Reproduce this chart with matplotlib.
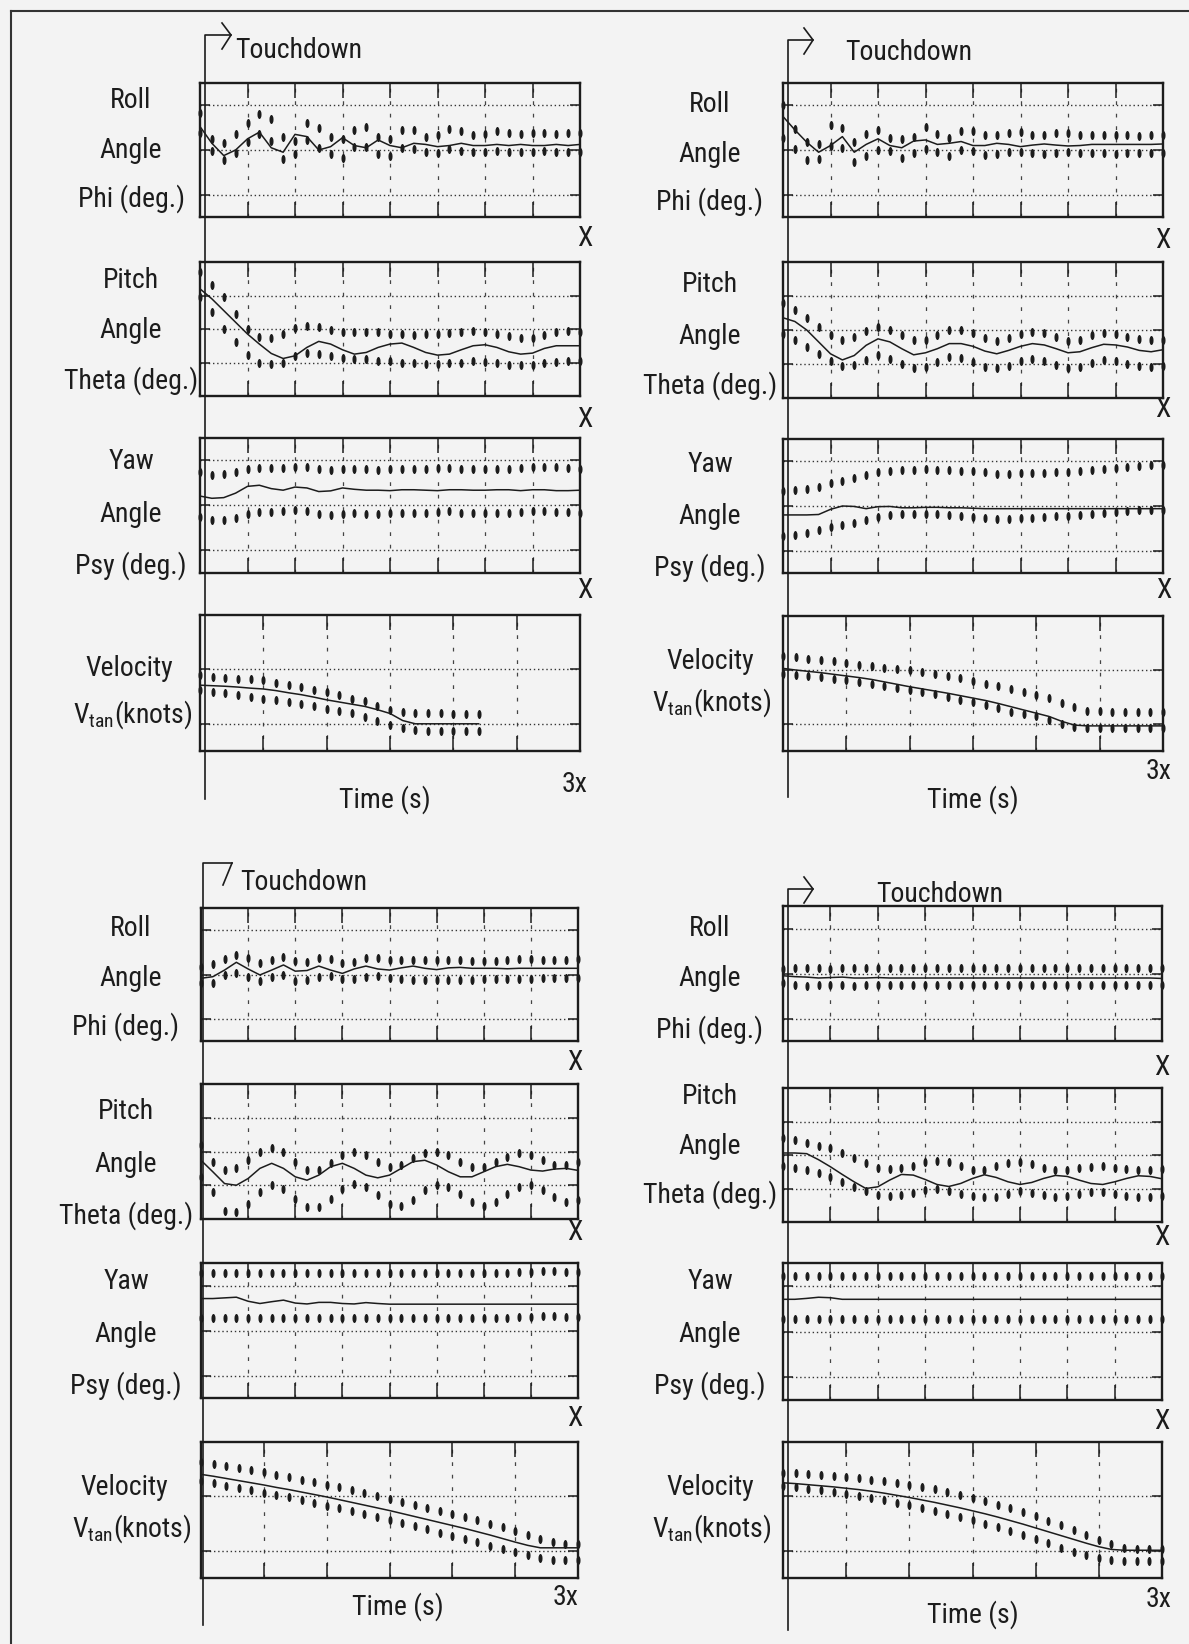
import matplotlib
matplotlib.use("Agg")
import matplotlib.pyplot as plt
from matplotlib import font_manager
from matplotlib.path import Path
import numpy as np

# sampling grids (attitude panels: 0..X, velocity panels: 0..3X)
t_att = np.linspace(0, 1, 33)
t_vel = np.round(np.arange(31) * 0.1, 2)

# ---------------- top-left case ----------------
tl_roll_mid = [4.05, 3.3, 2.75, 3.0, 3.5, 3.8, 3.1, 2.9, 3.7, 3.6, 3.0, 3.15, 3.55, 3.2, 3.1, 3.45, 3.2,
               3.1, 3.3, 3.25, 3.15, 3.2, 3.3, 3.2, 3.2, 3.25, 3.2, 3.25, 3.2, 3.2, 3.25, 3.2, 3.25]
tl_roll_hi = [4.65, 3.5, 3.3, 3.7, 4.2, 4.6, 4.4, 3.6, 3.4, 4.2, 4.0, 3.6, 3.5, 3.9, 4.05, 3.6, 3.5,
              3.9, 3.9, 3.6, 3.65, 3.93, 3.85, 3.65, 3.7, 3.83, 3.75, 3.7, 3.75, 3.78, 3.72, 3.75, 3.75]
tl_roll_lo = [3.75, 2.95, 2.55, 2.85, 3.35, 3.72, 3.4, 2.6, 2.8, 3.45, 3.1, 2.8, 2.65, 3.15, 3.15, 2.8, 2.75,
              3.1, 3.05, 2.9, 2.88, 3.03, 2.95, 2.9, 2.92, 2.95, 2.93, 2.9, 2.93, 2.95, 2.92, 2.9, 2.93]

tl_pitch_mid = [3.2, 2.9, 2.55, 2.2, 1.85, 1.55, 1.27, 1.12, 1.2, 1.45, 1.63, 1.55, 1.38, 1.25, 1.3, 1.45, 1.55,
                1.58, 1.45, 1.3, 1.22, 1.25, 1.38, 1.5, 1.53, 1.45, 1.32, 1.25, 1.28, 1.42, 1.5, 1.5, 1.5]
tl_pitch_hi = [3.7, 3.3, 2.95, 2.45, 2.0, 1.76, 1.74, 1.84, 2.02, 2.08, 2.06, 1.98, 1.9, 1.9, 1.92, 1.9, 1.86,
               1.84, 1.82, 1.84, 1.86, 1.88, 1.92, 1.94, 1.9, 1.86, 1.78, 1.72, 1.74, 1.82, 1.9, 1.94, 1.92]
tl_pitch_lo = [2.95, 2.5, 2.0, 1.6, 1.22, 0.98, 0.95, 1.0, 1.2, 1.28, 1.25, 1.18, 1.12, 1.1, 1.1, 1.05, 1.03,
               1.0, 0.98, 0.96, 0.97, 0.98, 1.0, 1.03, 1.02, 0.98, 0.94, 0.92, 0.93, 0.98, 1.02, 1.04, 1.04]

tl_yaw_mid = [3.42, 3.32, 3.35, 3.55, 3.85, 3.9, 3.75, 3.68, 3.82, 3.78, 3.62, 3.65, 3.78, 3.72, 3.68, 3.68, 3.66,
              3.7, 3.7, 3.68, 3.66, 3.7, 3.7, 3.68, 3.68, 3.7, 3.7, 3.66, 3.7, 3.7, 3.66, 3.66, 3.68]
tl_yaw_hi = [4.48, 4.36, 4.38, 4.5, 4.62, 4.66, 4.66, 4.66, 4.72, 4.72, 4.62, 4.56, 4.6, 4.64, 4.6, 4.58, 4.64,
             4.64, 4.64, 4.64, 4.66, 4.68, 4.64, 4.62, 4.64, 4.64, 4.64, 4.68, 4.72, 4.7, 4.7, 4.66, 4.63]
tl_yaw_lo = [2.47, 2.36, 2.36, 2.46, 2.64, 2.7, 2.72, 2.74, 2.78, 2.76, 2.64, 2.58, 2.62, 2.66, 2.62, 2.6, 2.68,
             2.68, 2.68, 2.68, 2.7, 2.74, 2.68, 2.66, 2.68, 2.68, 2.68, 2.72, 2.76, 2.74, 2.72, 2.7, 2.65]

tl_vel_mid = [2.42, 2.4, 2.38, 2.35, 2.31, 2.28, 2.22, 2.14, 2.07, 1.98, 1.88, 1.8, 1.72, 1.64, 1.52, 1.38,
              1.12, 1.0, 1.0, 1.0, 1.0, 1.0, 1.0]
tl_vel_hi = [2.79, 2.72, 2.69, 2.66, 2.63, 2.6, 2.5, 2.43, 2.36, 2.26, 2.16, 2.06, 1.93, 1.82, 1.64, 1.52,
             1.42, 1.38, 1.38, 1.38, 1.36, 1.36, 1.36]
tl_vel_lo = [2.24, 2.18, 2.12, 2.06, 2.0, 1.92, 1.86, 1.8, 1.72, 1.64, 1.56, 1.48, 1.38, 1.26, 1.1, 0.96,
             0.84, 0.76, 0.74, 0.74, 0.74, 0.74, 0.74]

# ---------------- top-right case ----------------
tr_roll_mid = [4.5, 3.9, 3.35, 2.9, 3.2, 3.6, 2.9, 3.25, 3.5, 3.2, 3.1, 3.4, 3.45, 3.25, 3.3, 3.38, 3.2,
               3.2, 3.3, 3.25, 3.15, 3.22, 3.27, 3.22, 3.18, 3.2, 3.25, 3.25, 3.25, 3.25, 3.25, 3.25, 3.27]
tr_roll_hi = [5.0, 3.95, 3.35, 3.25, 4.1, 4.0, 3.35, 3.7, 3.9, 3.55, 3.5, 3.6, 4.02, 3.7, 3.55, 3.85, 3.85,
              3.65, 3.65, 3.75, 3.8, 3.65, 3.65, 3.75, 3.78, 3.68, 3.68, 3.68, 3.68, 3.65, 3.62, 3.65, 3.68]
tr_roll_lo = [3.55, 3.05, 2.55, 2.6, 3.2, 3.1, 2.45, 2.75, 3.0, 2.95, 2.65, 2.85, 3.05, 2.9, 2.72, 3.0, 2.95,
              2.78, 2.8, 2.9, 2.92, 2.85, 2.8, 2.86, 2.9, 2.88, 2.85, 2.85, 2.82, 2.85, 2.85, 2.85, 2.85]

tr_pitch_mid = [2.36, 2.25, 2.0, 1.65, 1.3, 1.12, 1.25, 1.55, 1.74, 1.65, 1.45, 1.27, 1.33, 1.45, 1.6, 1.6, 1.52,
                1.38, 1.3, 1.4, 1.52, 1.6, 1.56, 1.45, 1.33, 1.36, 1.48, 1.58, 1.56, 1.5, 1.4, 1.36, 1.42]
tr_pitch_hi = [2.79, 2.6, 2.35, 2.1, 1.85, 1.7, 1.78, 1.98, 2.1, 2.0, 1.86, 1.7, 1.72, 1.85, 2.0, 2.0, 1.9,
               1.75, 1.68, 1.76, 1.88, 1.95, 1.9, 1.8, 1.68, 1.72, 1.84, 1.92, 1.88, 1.8, 1.74, 1.7, 1.72]
tr_pitch_lo = [1.88, 1.7, 1.5, 1.3, 1.1, 0.95, 0.98, 1.12, 1.25, 1.15, 1.0, 0.87, 0.9, 1.05, 1.2, 1.18, 1.05,
               0.92, 0.87, 0.95, 1.1, 1.15, 1.08, 0.98, 0.88, 0.92, 1.03, 1.12, 1.08, 1.0, 0.93, 0.92, 0.95]

tr_yaw_mid = [2.6, 2.6, 2.6, 2.62, 2.85, 3.0, 2.98, 2.88, 2.97, 2.98, 2.92, 2.92, 2.94, 2.94, 2.92, 2.92, 2.9,
              2.88, 2.88, 2.88, 2.88, 2.88, 2.88, 2.88, 2.88, 2.88, 2.88, 2.88, 2.88, 2.88, 2.88, 2.88, 2.88]
tr_yaw_hi = [3.65, 3.7, 3.76, 3.86, 4.04, 4.14, 4.26, 4.38, 4.5, 4.58, 4.6, 4.62, 4.64, 4.6, 4.6, 4.58, 4.55,
             4.5, 4.44, 4.44, 4.46, 4.47, 4.48, 4.52, 4.54, 4.56, 4.6, 4.64, 4.7, 4.75, 4.8, 4.82, 4.84]
tr_yaw_lo = [1.64, 1.7, 1.78, 1.92, 2.06, 2.16, 2.24, 2.36, 2.5, 2.6, 2.62, 2.64, 2.65, 2.62, 2.6, 2.56, 2.52,
             2.48, 2.44, 2.44, 2.46, 2.47, 2.5, 2.54, 2.56, 2.6, 2.64, 2.68, 2.74, 2.79, 2.82, 2.83, 2.83]

tr_vel_mid = [3.06, 3.0, 2.95, 2.9, 2.84, 2.78, 2.72, 2.65, 2.56, 2.47, 2.38, 2.3, 2.22, 2.14, 2.05, 1.96,
              1.87, 1.76, 1.64, 1.52, 1.4, 1.28, 1.1, 0.96, 0.93, 0.93, 0.93, 0.93, 0.93, 0.93, 0.93]
tr_vel_hi = [3.52, 3.48, 3.42, 3.38, 3.32, 3.25, 3.2, 3.14, 3.08, 3.04, 3.0, 2.92, 2.84, 2.78, 2.7, 2.6,
             2.5, 2.4, 2.3, 2.2, 2.08, 1.96, 1.78, 1.62, 1.5, 1.48, 1.46, 1.46, 1.46, 1.46, 1.46]
tr_vel_lo = [2.87, 2.82, 2.78, 2.74, 2.68, 2.62, 2.56, 2.48, 2.4, 2.33, 2.26, 2.18, 2.1, 2.01, 1.9, 1.8,
             1.7, 1.58, 1.45, 1.36, 1.28, 1.16, 1.0, 0.88, 0.86, 0.86, 0.86, 0.86, 0.86, 0.86, 0.86]

# ---------------- bottom-left case ----------------
bl_roll_mid = [2.83, 2.9, 3.2, 3.55, 3.25, 2.98, 3.2, 3.43, 3.15, 3.18, 3.38, 3.2, 3.05, 3.25, 3.38, 3.25, 3.2,
               3.3, 3.38, 3.28, 3.22, 3.3, 3.32, 3.28, 3.28, 3.28, 3.26, 3.28, 3.28, 3.28, 3.28, 3.28, 3.28]
bl_roll_hi = [3.35, 3.48, 3.72, 3.88, 3.75, 3.5, 3.64, 3.8, 3.62, 3.55, 3.75, 3.72, 3.5, 3.58, 3.74, 3.75, 3.66,
              3.64, 3.64, 3.64, 3.64, 3.64, 3.64, 3.62, 3.62, 3.62, 3.64, 3.68, 3.72, 3.66, 3.64, 3.66, 3.69]
bl_roll_lo = [2.6, 2.6, 3.0, 3.05, 2.9, 2.7, 2.9, 3.0, 2.72, 2.74, 2.9, 2.95, 2.78, 2.8, 2.88, 2.92, 2.84,
              2.8, 2.76, 2.76, 2.76, 2.76, 2.77, 2.77, 2.78, 2.78, 2.8, 2.8, 2.8, 2.82, 2.82, 2.82, 2.83]

bl_pitch_mid = [1.74, 1.4, 1.05, 1.0, 1.2, 1.5, 1.65, 1.5, 1.25, 1.15, 1.3, 1.55, 1.65, 1.5, 1.3, 1.22, 1.3,
                1.5, 1.7, 1.74, 1.6, 1.4, 1.25, 1.25, 1.4, 1.55, 1.62, 1.55, 1.45, 1.42, 1.48, 1.5, 1.44]
bl_pitch_hi = [2.2, 1.7, 1.45, 1.5, 1.75, 2.0, 2.1, 2.0, 1.7, 1.45, 1.45, 1.65, 1.9, 2.0, 1.9, 1.7, 1.55,
               1.6, 1.8, 1.95, 2.0, 1.9, 1.7, 1.55, 1.55, 1.7, 1.85, 1.95, 1.9, 1.75, 1.6, 1.6, 1.7]
bl_pitch_lo = [1.25, 0.8, 0.25, 0.2, 0.45, 0.8, 1.0, 0.9, 0.6, 0.35, 0.35, 0.6, 0.9, 1.05, 0.95, 0.7, 0.45,
               0.4, 0.55, 0.85, 1.0, 0.95, 0.75, 0.5, 0.4, 0.5, 0.75, 0.95, 1.0, 0.85, 0.65, 0.5, 0.55]

bl_yaw_mid = [4.42, 4.42, 4.45, 4.48, 4.3, 4.2, 4.28, 4.35, 4.22, 4.18, 4.25, 4.25, 4.2, 4.18, 4.24, 4.2, 4.17,
              4.17, 4.17, 4.17, 4.17, 4.17, 4.17, 4.17, 4.17, 4.17, 4.17, 4.17, 4.17, 4.17, 4.17, 4.17, 4.17]
bl_yaw_hi = [5.57, 5.57, 5.57, 5.57, 5.57, 5.57, 5.57, 5.57, 5.57, 5.57, 5.57, 5.57, 5.57, 5.57, 5.57, 5.57, 5.57,
             5.57, 5.57, 5.57, 5.57, 5.57, 5.57, 5.57, 5.57, 5.57, 5.57, 5.6, 5.62, 5.64, 5.64, 5.6, 5.6]
bl_yaw_lo = [3.57, 3.57, 3.57, 3.57, 3.57, 3.57, 3.57, 3.57, 3.57, 3.57, 3.57, 3.57, 3.57, 3.57, 3.57, 3.57, 3.57,
             3.57, 3.57, 3.57, 3.57, 3.57, 3.57, 3.57, 3.57, 3.57, 3.57, 3.6, 3.62, 3.64, 3.64, 3.6, 3.6]

bl_vel_mid = [3.81, 3.74, 3.66, 3.58, 3.5, 3.42, 3.33, 3.25, 3.16, 3.07, 2.98, 2.88, 2.78, 2.68, 2.58, 2.48,
              2.37, 2.26, 2.15, 2.04, 1.93, 1.82, 1.7, 1.58, 1.45, 1.32, 1.2, 1.11, 1.11, 1.11, 1.11]
bl_vel_hi = [4.26, 4.2, 4.13, 4.05, 3.97, 3.88, 3.8, 3.71, 3.62, 3.53, 3.43, 3.33, 3.23, 3.13, 3.02, 2.92,
             2.81, 2.7, 2.59, 2.48, 2.36, 2.24, 2.12, 2.0, 1.86, 1.72, 1.58, 1.44, 1.32, 1.26, 1.24]
bl_vel_lo = [3.55, 3.48, 3.4, 3.32, 3.23, 3.14, 3.05, 2.96, 2.86, 2.76, 2.66, 2.56, 2.46, 2.35, 2.24, 2.13,
             2.02, 1.9, 1.79, 1.67, 1.55, 1.43, 1.31, 1.19, 1.07, 0.95, 0.84, 0.74, 0.68, 0.66, 0.66]

# ---------------- bottom-right case ----------------
br_roll_mid = [2.9, 2.86, 2.84, 2.8, 2.82, 2.84, 2.8, 2.8, 2.82, 2.8, 2.8, 2.8, 2.8, 2.8, 2.8, 2.8, 2.8,
               2.8, 2.8, 2.8, 2.8, 2.8, 2.8, 2.8, 2.8, 2.8, 2.8, 2.8, 2.8, 2.8, 2.8, 2.8, 2.78]
br_roll_hi = [3.2, 3.24, 3.26, 3.24, 3.22, 3.24, 3.26, 3.24, 3.24, 3.24, 3.24, 3.24, 3.24, 3.24, 3.24, 3.24, 3.24,
              3.24, 3.24, 3.24, 3.24, 3.24, 3.24, 3.24, 3.24, 3.24, 3.24, 3.24, 3.24, 3.24, 3.24, 3.24, 3.24]
br_roll_lo = [2.6, 2.5, 2.46, 2.48, 2.5, 2.48, 2.46, 2.48, 2.48, 2.48, 2.48, 2.48, 2.48, 2.48, 2.48, 2.48, 2.48,
              2.48, 2.48, 2.48, 2.48, 2.48, 2.48, 2.48, 2.48, 2.48, 2.48, 2.48, 2.48, 2.48, 2.48, 2.48, 2.48]

br_pitch_mid = [2.06, 2.06, 2.04, 1.86, 1.65, 1.42, 1.2, 1.0, 1.05, 1.25, 1.42, 1.4, 1.27, 1.12, 1.06, 1.15, 1.3,
                1.41, 1.33, 1.2, 1.12, 1.18, 1.3, 1.39, 1.36, 1.25, 1.15, 1.12, 1.2, 1.3, 1.38, 1.36, 1.29]
br_pitch_hi = [2.52, 2.46, 2.36, 2.28, 2.2, 2.06, 1.92, 1.75, 1.6, 1.57, 1.6, 1.66, 1.78, 1.82, 1.78, 1.66, 1.56,
               1.56, 1.66, 1.76, 1.79, 1.72, 1.6, 1.56, 1.56, 1.6, 1.64, 1.66, 1.62, 1.59, 1.56, 1.54, 1.59]
br_pitch_lo = [1.66, 1.6, 1.55, 1.46, 1.34, 1.2, 1.05, 0.93, 0.82, 0.78, 0.8, 0.88, 0.95, 1.0, 0.93, 0.84, 0.78,
               0.74, 0.76, 0.85, 0.93, 0.88, 0.8, 0.75, 0.78, 0.85, 0.9, 0.9, 0.84, 0.77, 0.75, 0.75, 0.77]

br_yaw_mid = [4.41, 4.41, 4.45, 4.5, 4.48, 4.41, 4.41, 4.41, 4.41, 4.41, 4.41, 4.41, 4.41, 4.41, 4.41, 4.41, 4.41,
              4.41, 4.41, 4.41, 4.41, 4.41, 4.41, 4.41, 4.41, 4.41, 4.41, 4.41, 4.41, 4.41, 4.41, 4.41, 4.41]
br_yaw_hi = [5.45, 5.45, 5.45, 5.45, 5.45, 5.45, 5.45, 5.45, 5.45, 5.45, 5.45, 5.45, 5.45, 5.45, 5.45, 5.45, 5.45,
             5.45, 5.45, 5.45, 5.45, 5.45, 5.45, 5.45, 5.45, 5.45, 5.45, 5.45, 5.45, 5.45, 5.45, 5.45, 5.45]
br_yaw_lo = [3.55, 3.55, 3.55, 3.55, 3.55, 3.55, 3.55, 3.55, 3.55, 3.55, 3.55, 3.55, 3.55, 3.55, 3.55, 3.55, 3.55,
             3.55, 3.55, 3.55, 3.55, 3.55, 3.55, 3.55, 3.55, 3.55, 3.55, 3.55, 3.55, 3.55, 3.55, 3.55, 3.55]

br_vel_mid = [3.5, 3.47, 3.43, 3.39, 3.35, 3.3, 3.25, 3.19, 3.12, 3.04, 2.96, 2.87, 2.78, 2.68, 2.58, 2.47,
              2.36, 2.24, 2.11, 1.98, 1.84, 1.7, 1.56, 1.42, 1.28, 1.15, 1.05, 1.02, 1.02, 1.02, 1.02]
br_vel_hi = [3.87, 3.85, 3.82, 3.79, 3.76, 3.72, 3.67, 3.62, 3.56, 3.5, 3.43, 3.35, 3.26, 3.16, 3.05, 2.94,
             2.82, 2.7, 2.56, 2.42, 2.27, 2.11, 1.94, 1.76, 1.58, 1.4, 1.24, 1.12, 1.08, 1.06, 1.06]
br_vel_lo = [3.38, 3.33, 3.28, 3.22, 3.16, 3.09, 3.02, 2.94, 2.86, 2.77, 2.68, 2.58, 2.48, 2.37, 2.25, 2.13,
             2.0, 1.86, 1.72, 1.57, 1.42, 1.27, 1.12, 0.97, 0.83, 0.72, 0.66, 0.64, 0.64, 0.64, 0.64]

row_labels = [["Roll", "Angle", "Phi (deg.)"],
              ["Pitch", "Angle", "Theta (deg.)"],
              ["Yaw", "Angle", "Psy (deg.)"],
              ["Velocity", r"V$_{\mathrm{tan}}$(knots)"]]

# ---------------- fonts ----------------
_names = {f.name for f in font_manager.fontManager.ttflist}
FONT, FS = "Liberation Sans", 17
for cand, size in [("Liberation Sans Narrow", 21), ("Roboto Condensed", 20), ("Open Sans Condensed", 20)]:
    if cand in _names:
        FONT, FS = cand, size
        break
plt.rcParams["font.family"] = [FONT, "DejaVu Sans"]
plt.rcParams["mathtext.fontset"] = "custom"
plt.rcParams["mathtext.rm"] = FONT
plt.rcParams["mathtext.it"] = FONT

W, H = 1189, 1644
BG = "#f3f3f3"
INK = "#1c1c1c"

# tall oval marker like the plotter's bound symbols
_circ = Path.unit_circle()
OVAL = Path(_circ.vertices * np.array([0.45, 1.0]), _circ.codes)

fig = plt.figure(figsize=(W / 100, H / 100), dpi=100, facecolor=BG)


def add_box(x0, x1, ytop, ybot):
    return fig.add_axes([x0 / W, 1 - ybot / H, (x1 - x0) / W, (ybot - ytop) / H])


def draw_panel(ax, t, mid, hi, lo, ymax, ygrid, nx, xmax):
    ax.set_facecolor(BG)
    ax.set_xlim(0, xmax)
    ax.set_ylim(0, ymax)
    xt = [xmax * i / nx for i in range(1, nx)]
    ax.set_xticks(xt)
    ax.set_yticks(ygrid)
    ax.set_xticklabels([])
    ax.set_yticklabels([])
    ax.tick_params(axis="x", direction="in", length=11, width=1.1, top=True, color=INK)
    ax.tick_params(axis="y", direction="in", length=7, width=1.1, right=True, color=INK)
    for x in xt:
        ax.axvline(x, ls=(0, (3, 7)), lw=0.9, color="#444444", zorder=1)
    for y in ygrid:
        ax.axhline(y, ls=(0, (1, 2)), lw=1.0, color="#333333", zorder=1)
    ax.plot(t[:len(hi)], hi, ls="none", marker=OVAL, ms=6.5, mew=0, color=INK, clip_on=False, zorder=3)
    ax.plot(t[:len(lo)], lo, ls="none", marker=OVAL, ms=6.5, mew=0, color=INK, clip_on=False, zorder=3)
    ax.plot(t[:len(mid)], mid, lw=1.1, color=INK, zorder=4)
    for s in ax.spines.values():
        s.set_linewidth(1.7)
        s.set_color(INK)


# panel boxes in pixel coords
cases = [
    dict(x=(200, 580), rows=[(83, 217), (262, 396), (438, 573), (615, 751)],
         data=[(tl_roll_mid, tl_roll_hi, tl_roll_lo), (tl_pitch_mid, tl_pitch_hi, tl_pitch_lo),
               (tl_yaw_mid, tl_yaw_hi, tl_yaw_lo), (tl_vel_mid, tl_vel_hi, tl_vel_lo)]),
    dict(x=(783, 1163), rows=[(83, 217), (262, 398), (439, 573), (616, 751)],
         data=[(tr_roll_mid, tr_roll_hi, tr_roll_lo), (tr_pitch_mid, tr_pitch_hi, tr_pitch_lo),
               (tr_yaw_mid, tr_yaw_hi, tr_yaw_lo), (tr_vel_mid, tr_vel_hi, tr_vel_lo)]),
    dict(x=(201, 578), rows=[(908, 1041), (1084, 1219), (1263, 1398), (1442, 1578)],
         data=[(bl_roll_mid, bl_roll_hi, bl_roll_lo), (bl_pitch_mid, bl_pitch_hi, bl_pitch_lo),
               (bl_yaw_mid, bl_yaw_hi, bl_yaw_lo), (bl_vel_mid, bl_vel_hi, bl_vel_lo)]),
    dict(x=(783, 1162), rows=[(906, 1041), (1088, 1222), (1263, 1400), (1442, 1578)],
         data=[(br_roll_mid, br_roll_hi, br_roll_lo), (br_pitch_mid, br_pitch_hi, br_pitch_lo),
               (br_yaw_mid, br_yaw_hi, br_yaw_lo), (br_vel_mid, br_vel_hi, br_vel_lo)]),
]
# (ymax, horizontal grid values) per row
row_scale = [(6, [1, 3, 5]), (4, [1, 2, 3]), (6, [1, 3, 5]), (5, [1, 3])]

for case in cases:
    x0, x1 = case["x"]
    for r, ((yt, yb), (mid, hi, lo)) in enumerate(zip(case["rows"], case["data"])):
        ax = add_box(x0, x1, yt, yb)
        ymax, yg = row_scale[r]
        if r < 3:
            draw_panel(ax, t_att, mid, hi, lo, ymax, yg, 8, 1)
        else:
            draw_panel(ax, t_vel, mid, hi, lo, ymax, yg, 6, 3)

# overlay in pixel coordinates for annotations
ov = fig.add_axes([0, 0, 1, 1], zorder=10)
ov.set_xlim(0, W)
ov.set_ylim(H, 0)
ov.axis("off")

# page frame (left and top edges)
ov.plot([11, 11], [H, 11], color="#333333", lw=1.5)
ov.plot([11, W], [11, 11], color="#333333", lw=1.5)

# touchdown markers: vertical line, hook and chevron
touch = [(205, 35, 799, 231, True), (788, 40, 797, 813, True),
         (203, 863, 1625, 232, False), (788, 889, 1630, 813, True)]
for x, ytop, ybot, xtip, both in touch:
    ov.plot([x, x, xtip], [ybot, ytop, ytop], color=INK, lw=1.2)
    if both:
        ov.plot([xtip - 9, xtip, xtip - 9], [ytop - 12, ytop, ytop + 14], color=INK, lw=1.2)
    else:
        ov.plot([xtip, xtip - 9], [ytop, ytop + 22], color=INK, lw=1.2)

txt = dict(ha="center", va="center", fontsize=FS, color=INK)
for (tx, ty) in [(299, 50), (909, 52), (304, 882), (940, 894)]:
    ov.text(tx, ty, "Touchdown", **txt)

label_pos = [
    [[(131, 100), (131, 150), (131, 199)], [(131, 281), (131, 331), (131, 381)],
     [(131, 461), (131, 514), (131, 566)], [(129, 668), (133, 715)]],
    [[(710, 105), (710, 154), (710, 202)], [(710, 285), (710, 336), (710, 386)],
     [(710, 464), (710, 516), (710, 568)], [(710, 661), (712, 703)]],
    [[(131, 928), (131, 978), (126, 1027)], [(126, 1111), (126, 1164), (126, 1216)],
     [(126, 1281), (126, 1334), (126, 1386)], [(124, 1487), (132, 1529)]],
    [[(710, 928), (710, 978), (710, 1030)], [(710, 1096), (710, 1146), (710, 1195)],
     [(710, 1281), (710, 1334), (710, 1386)], [(710, 1487), (712, 1529)]],
]
for pos_case in label_pos:
    for r, pos_row in enumerate(pos_case):
        for s, (lx, ly) in zip(row_labels[r], pos_row):
            ov.text(lx, ly, s, **txt)

for (tx, ty) in [(385, 800), (973, 800), (398, 1607), (973, 1615)]:
    ov.text(tx, ty, "Time (s)", **txt)
for (tx, ty) in [(575, 784), (1159, 771), (566, 1597), (1159, 1599)]:
    ov.text(tx, ty, "3x", **txt)
for (tx, ty) in [(585, 239), (585, 419), (585, 590), (1163, 241), (1163, 409), (1164, 590),
                 (575, 1062), (575, 1232), (575, 1418), (1162, 1067), (1162, 1237), (1162, 1421)]:
    ov.text(tx, ty, "X", **txt)

fig.savefig("out.png", dpi=100, facecolor=BG)
